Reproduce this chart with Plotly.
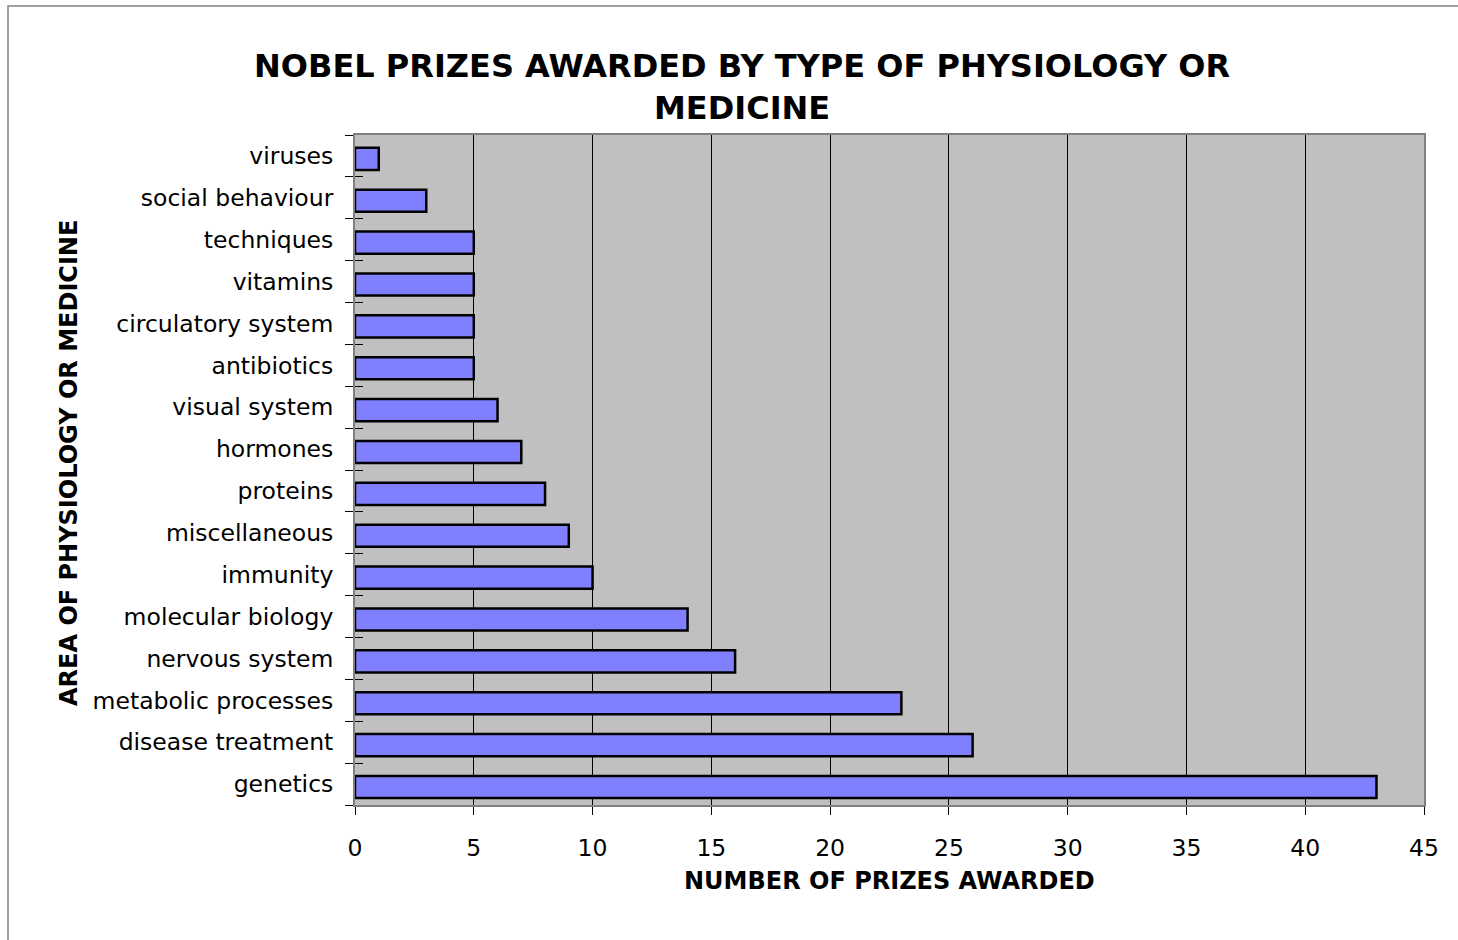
import plotly.graph_objects as go

# Nobel Prizes in Physiology or Medicine, grouped by field
categories = [
    "genetics", "disease treatment", "metabolic processes", "nervous system",
    "molecular biology", "immunity", "miscellaneous", "proteins", "hormones",
    "visual system", "antibiotics", "circulatory system", "vitamins",
    "techniques", "social behaviour", "viruses",
]
prizes = [43, 26, 23, 16, 14, 10, 9, 8, 7, 6, 5, 5, 5, 5, 3, 1]
x_ticks = [0, 5, 10, 15, 20, 25, 30, 35, 40, 45]

FONT = "DejaVu Sans"
W, H = 1458, 940
L, R, T, B = 355, 34, 135, 135
PW, PH = W - L - R, H - T - B


def px_to_paper_x(px):
    return (px - L) / PW


def px_to_paper_y(py):
    return ((H - B) - py) / PH


fig = go.Figure()

fig.add_trace(go.Bar(
    y=categories, x=prizes, orientation="h",
    width=0.53, offset=-0.335,
    marker=dict(color="#8080FF", line=dict(color="black", width=2.5)),
    showlegend=False,
))

# transparent copy on overlay axes, used only for the inward half of the cross ticks
fig.add_trace(go.Bar(
    y=categories, x=prizes, orientation="h",
    xaxis="x2", yaxis="y2", opacity=0, hoverinfo="skip",
    showlegend=False,
))

axis_font = dict(family=FONT, size=23.5, color="black")
title_font = dict(family=FONT, size=24, color="black", weight="bold")

fig.update_layout(
    width=W, height=H,
    margin=dict(l=L, r=R, t=T, b=B),
    paper_bgcolor="white",
    plot_bgcolor="#C0C0C0",
    bargap=0.47,
    title=dict(
        text="NOBEL PRIZES AWARDED BY TYPE OF PHYSIOLOGY OR<br>MEDICINE",
        font=dict(family=FONT, size=32, color="black", weight="bold"),
        x=0.509, xanchor="center",
        y=1 - 77 / H, yref="container", yanchor="middle",
    ),
    xaxis=dict(
        range=[0, 45], tickvals=x_ticks, ticktext=[str(v) for v in x_ticks],
        showgrid=True, gridcolor="black", gridwidth=1, zeroline=False,
        ticks="outside", ticklen=8, tickcolor="black", tickwidth=1,
        tickfont=axis_font, ticklabelstandoff=13,
        showline=True, linecolor="#808080", linewidth=2, mirror=True,
        fixedrange=True,
    ),
    yaxis=dict(
        type="category", categoryorder="array", categoryarray=categories,
        range=[-0.5, len(categories) - 0.5],
        ticks="outside", ticklen=8, tickcolor="black", tickwidth=1,
        tickson="boundaries", tickfont=axis_font, ticklabelstandoff=15,
        showgrid=False, zeroline=False,
        showline=True, linecolor="#808080", linewidth=2, mirror=True,
        fixedrange=True,
    ),
    xaxis2=dict(
        overlaying="x", side="bottom", range=[0, 45], tickvals=x_ticks,
        ticks="inside", ticklen=8, tickcolor="black", tickwidth=1,
        showticklabels=False, showgrid=False, zeroline=False, showline=False,
        fixedrange=True,
    ),
    yaxis2=dict(
        overlaying="y", side="left", type="category",
        categoryorder="array", categoryarray=categories,
        range=[-0.5, len(categories) - 0.5],
        ticks="inside", ticklen=8, tickcolor="black", tickwidth=1,
        tickson="boundaries", showticklabels=False, showgrid=False,
        zeroline=False, showline=False, fixedrange=True,
    ),
    annotations=[
        dict(
            text="NUMBER OF PRIZES AWARDED", xref="paper", yref="paper",
            x=px_to_paper_x(889), y=px_to_paper_y(881),
            xanchor="center", yanchor="middle", showarrow=False,
            font=title_font,
        ),
        dict(
            text="AREA OF PHYSIOLOGY OR MEDICINE", xref="paper", yref="paper",
            x=px_to_paper_x(69), y=px_to_paper_y(463),
            xanchor="center", yanchor="middle", textangle=-90, showarrow=False,
            font=title_font,
        ),
    ],
    shapes=[
        # outer chart frame, running off the right and bottom edges
        dict(
            type="rect", xref="paper", yref="paper", layer="below",
            x0=px_to_paper_x(8), x1=2.0,
            y0=-1.0, y1=px_to_paper_y(6),
            line=dict(color="#808080", width=1.5), fillcolor="rgba(0,0,0,0)",
        ),
    ],
)

fig.write_html("out.html", config={"displayModeBar": False})
